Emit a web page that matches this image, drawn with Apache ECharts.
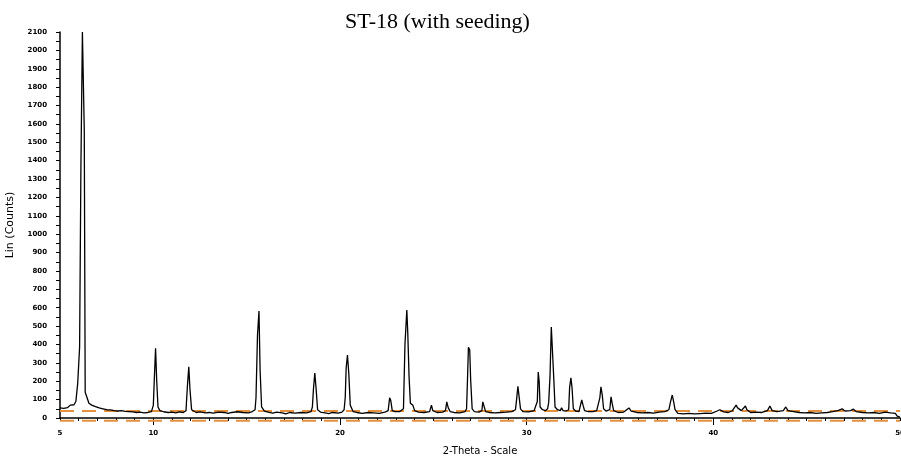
<!DOCTYPE html>
<html>
<head>
    <meta charset="utf-8">
    <title>ST-18 (with seeding)</title>
    <script src="https://cdn.jsdelivr.net/npm/echarts@6/dist/echarts.min.js"></script>
    <style>
        html, body { margin: 0; padding: 0; background: #fff; }
        #chart { width: 901px; height: 457px; }
    </style>
</head>
<body>
<div id="chart"></div>
<script type="text/javascript">
    // 衍射图数据 [2-Theta, counts]
    var pattern = [
        [5.0, 55], [5.2, 52], [5.4, 56], [5.55, 70], [5.65, 68], [5.75, 72], [5.85, 90], [5.95, 190],
        [6.05, 385], [6.12, 1360], [6.2, 2100], [6.26, 2100], [6.3, 1570], [6.35, 140], [6.45, 110],
        [6.55, 80], [6.7, 70], [6.9, 62], [7.1, 55], [7.3, 50], [7.5, 45], [7.7, 44], [7.9, 40],
        [8.1, 38], [8.3, 40], [8.5, 36], [8.7, 35], [8.9, 33], [9.1, 30], [9.3, 32], [9.5, 28],
        [9.7, 30], [9.9, 35], [10.0, 70], [10.05, 205], [10.12, 380], [10.18, 205], [10.25, 60],
        [10.35, 40], [10.55, 34], [10.8, 30], [11.0, 32], [11.2, 28], [11.4, 33], [11.6, 30],
        [11.75, 40], [11.82, 165], [11.9, 278], [11.96, 160], [12.05, 45], [12.15, 35], [12.3, 30],
        [12.5, 33], [12.8, 28], [13.0, 30], [13.2, 26], [13.5, 32], [13.8, 30], [14.0, 25], [14.2, 30],
        [14.5, 34], [14.8, 30], [15.1, 28], [15.3, 35], [15.45, 45], [15.5, 110], [15.58, 450],
        [15.66, 582], [15.72, 260], [15.8, 60], [15.95, 38], [16.2, 30], [16.4, 26], [16.6, 32],
        [16.9, 28], [17.1, 22], [17.3, 30], [17.6, 26], [17.9, 30], [18.2, 28], [18.45, 35],
        [18.52, 60], [18.58, 160], [18.65, 245], [18.72, 160], [18.8, 45], [18.95, 32], [19.2, 28],
        [19.4, 24], [19.6, 30], [19.9, 26], [20.1, 32], [20.22, 45], [20.28, 110], [20.33, 272],
        [20.4, 343], [20.47, 245], [20.55, 70], [20.7, 35], [20.9, 30], [21.2, 25], [21.5, 30],
        [21.8, 28], [22.1, 25], [22.4, 32], [22.58, 40], [22.66, 110], [22.72, 95], [22.8, 40],
        [22.95, 35], [23.2, 35], [23.4, 50], [23.48, 400], [23.58, 588], [23.63, 465], [23.7, 225],
        [23.77, 80], [23.83, 88], [23.9, 70], [24.0, 40], [24.2, 32], [24.5, 30], [24.8, 35],
        [24.9, 70], [24.97, 40], [25.2, 30], [25.5, 32], [25.65, 40], [25.72, 88], [25.8, 55],
        [25.9, 35], [26.1, 30], [26.4, 28], [26.7, 35], [26.78, 50], [26.83, 210], [26.88, 385],
        [26.95, 370], [27.0, 207], [27.08, 50], [27.2, 35], [27.45, 32], [27.6, 40], [27.65, 88],
        [27.72, 80], [27.8, 35], [28.0, 30], [28.3, 28], [28.6, 30], [28.9, 32], [29.2, 35],
        [29.4, 45], [29.46, 100], [29.53, 173], [29.6, 170], [29.67, 50], [29.8, 35], [30.1, 33],
        [30.4, 40], [30.5, 50], [30.57, 90], [30.62, 250], [30.67, 200], [30.72, 60], [30.85, 45],
        [31.0, 40], [31.12, 50], [31.18, 85], [31.25, 225], [31.32, 495], [31.38, 490], [31.45, 220],
        [31.52, 60], [31.65, 45], [31.8, 40], [31.87, 55], [31.95, 40], [32.1, 38], [32.25, 45],
        [32.3, 165], [32.37, 218], [32.43, 165], [32.5, 50], [32.62, 38], [32.8, 35], [32.88, 45],
        [32.95, 98], [33.02, 70], [33.1, 40], [33.3, 35], [33.55, 35], [33.75, 40], [33.85, 50],
        [33.92, 110], [33.98, 170], [34.05, 125], [34.12, 50], [34.25, 38], [34.45, 45], [34.52, 115],
        [34.58, 80], [34.66, 40], [34.9, 30], [35.2, 32], [35.48, 55], [35.6, 38], [35.9, 30],
        [36.2, 28], [36.5, 30], [36.8, 26], [37.1, 32], [37.4, 35], [37.62, 45], [37.7, 85],
        [37.8, 125], [37.87, 90], [37.95, 45], [38.1, 25], [38.4, 22], [38.7, 25], [39.0, 22],
        [39.3, 24], [39.6, 26], [39.9, 25], [40.2, 38], [40.35, 45], [40.55, 33], [40.8, 30],
        [41.0, 38], [41.22, 70], [41.3, 55], [41.5, 40], [41.72, 65], [41.8, 45], [42.0, 30],
        [42.3, 32], [42.6, 30], [42.9, 40], [43.03, 65], [43.15, 40], [43.4, 35], [43.75, 40],
        [43.88, 60], [44.0, 40], [44.3, 35], [44.6, 30], [44.9, 28], [45.2, 30], [45.5, 25],
        [45.8, 28], [46.1, 30], [46.4, 35], [46.7, 42], [46.9, 50], [47.05, 38], [47.35, 40],
        [47.5, 48], [47.65, 35], [48.0, 30], [48.3, 28], [48.6, 30], [48.9, 25], [49.2, 32],
        [49.5, 28], [49.75, 25], [49.85, 10], [50.0, 5]
    ];

    // 橙色虚线（背景线）
    var backgroundLevel = 38;
    var lowerLevel = -15;

    // 刻度
    var xRange = [5, 50];
    var xLabelValues = [5, 10, 20, 30, 40, 50];
    var xMajorTicks = [10, 20, 30, 40];
    var yRange = [0, 2100];
    var yStep = 100;

    var orange = '#e3913f';
    var tickFont = {fontSize: 7, fontWeight: 'bold', color: '#000', fontFamily: 'DejaVu Sans'};

    var chart = echarts.init(document.getElementById('chart'));
    var option = {
        animation: false,
        backgroundColor: '#fff',
        title: {
            text: 'ST-18 (with seeding)',
            left: 340,
            top: 6,
            textStyle: {fontFamily: 'Liberation Serif', fontSize: 22, fontWeight: 'normal', color: '#000'}
        },
        grid: {left: 60, right: 1, top: 32, bottom: 39, outerBoundsMode: 'none', containLabel: false},
        xAxis: [{
            type: 'value',
            min: xRange[0],
            max: xRange[1],
            interval: 1,
            name: '2-Theta - Scale',
            nameLocation: 'middle',
            nameGap: 28,
            nameTextStyle: {fontFamily: 'DejaVu Sans', fontSize: 10, color: '#000'},
            axisLine: {lineStyle: {color: '#000', width: 1.5}},
            axisTick: {length: 3, lineStyle: {color: '#000'}},
            axisLabel: {show: false},
            splitLine: {show: false}
        }, {
            type: 'value',
            position: 'bottom',
            min: xRange[0],
            max: xRange[1],
            axisLine: {show: false},
            axisTick: {customValues: xMajorTicks, length: 7, lineStyle: {color: '#000'}},
            axisLabel: Object.assign({customValues: xLabelValues, margin: 12, showMaxLabel: true}, tickFont),
            splitLine: {show: false}
        }],
        yAxis: {
            type: 'value',
            min: yRange[0],
            max: yRange[1],
            interval: yStep,
            name: 'Lin (Counts)',
            nameLocation: 'middle',
            nameGap: 44,
            nameTextStyle: {fontFamily: 'DejaVu Sans', fontSize: 11, color: '#000'},
            axisLine: {show: true, lineStyle: {color: '#000', width: 1.5}},
            axisTick: {length: 4, lineStyle: {color: '#000'}},
            minorTick: {show: true, splitNumber: 2, length: 4, lineStyle: {color: '#000'}},
            axisLabel: Object.assign({margin: 13, formatter: function (v) { return String(v); }}, tickFont),
            splitLine: {show: false}
        },
        series: [{
            type: 'line',
            data: [[xRange[0], backgroundLevel], [xRange[1], backgroundLevel]],
            symbol: 'none',
            silent: true,
            lineStyle: {color: orange, width: 2, type: [14, 8]},
            z: 1
        }, {
            type: 'line',
            data: [[xRange[0], lowerLevel], [xRange[1], lowerLevel]],
            symbol: 'none',
            silent: true,
            clip: false,
            lineStyle: {color: orange, width: 2, type: [14, 8]},
            z: 1
        }, {
            type: 'line',
            data: pattern,
            symbol: 'none',
            lineStyle: {color: '#000', width: 1.3},
            z: 3
        }]
    };
    chart.setOption(option);
</script>
</body>
</html>
